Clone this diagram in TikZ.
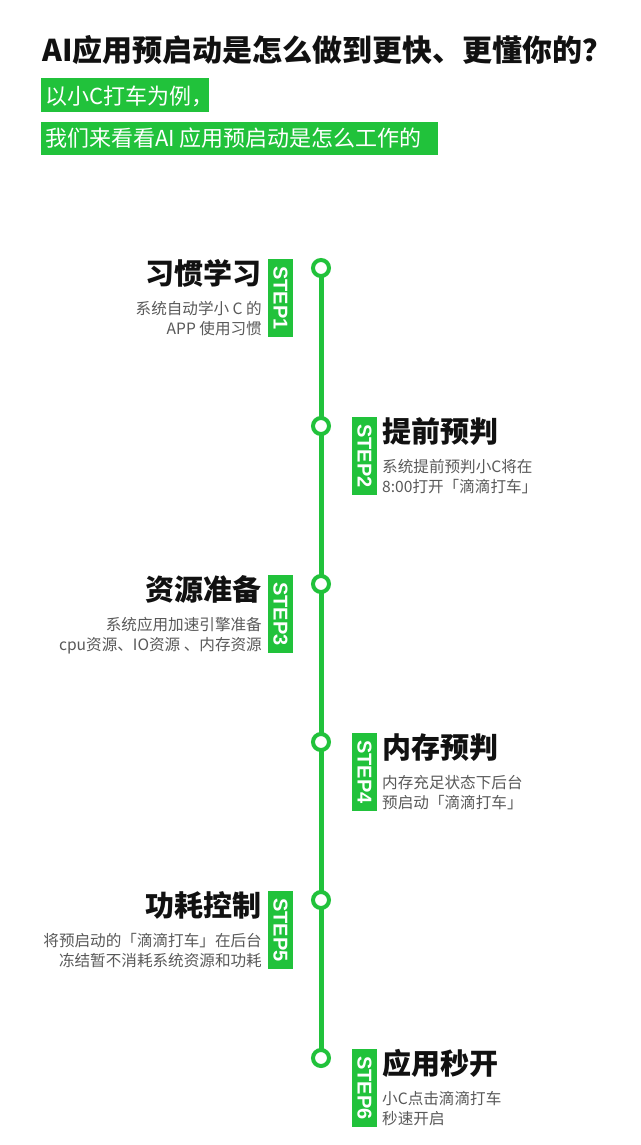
\documentclass[tikz,border=0pt]{standalone}
\usepackage{fontspec}
\setmainfont{Noto Sans CJK SC}
\newfontfamily\stepfont{Liberation Sans}
\definecolor{brandgreen}{HTML}{21C23B}
\definecolor{subgray}{HTML}{595959}
\definecolor{titleblack}{HTML}{111111}
\begin{document}
\begin{tikzpicture}[x=1pt,y=-1pt,
  headtitle/.style={anchor=base west,inner sep=0pt,text=titleblack,font=\fontsize{30}{30}\selectfont\bfseries},
  bandbox/.style={anchor=north west,fill=brandgreen,inner sep=0pt},
  bandtext/.style={anchor=base west,inner sep=0pt,text=white,font=\fontsize{22}{22}\selectfont},
  stitle/.style={inner sep=0pt,text=titleblack,font=\fontsize{29}{29}\selectfont\bfseries},
  ssub/.style={inner sep=0pt,text=subgray,font=\fontsize{15.6}{15.6}\selectfont},
  steptag/.style={rotate=-90,fill=brandgreen,text=white,inner sep=0pt,minimum width=78pt,minimum height=25pt,font=\stepfont\fontsize{20}{20}\selectfont\bfseries},
  dot/.style={circle,draw=brandgreen,line width=4pt,fill=white,minimum size=16pt,inner sep=0pt},
  spine/.style={draw=brandgreen,line width=5pt}
]
\useasboundingbox[fill=white] (0,0) rectangle (640,1145);

% header
\node[headtitle] (head) at (42,62) {AI应用预启动是怎么做到更快、更懂你的？};
\node[bandbox,minimum width=168pt,minimum height=34pt] (band1) at (41,78) {};
\node[bandtext] (band1t) at (45,104.5) {以小C打车为例，};
\node[bandbox,minimum width=397pt,minimum height=33pt] (band2) at (41,122) {};
\node[bandtext] (band2t) at (45,146.5) {我们来看看AI 应用预启动是怎么工作的};

% spine
\coordinate (p1) at (321,268);
\coordinate (p2) at (321,426);
\coordinate (p3) at (321,584);
\coordinate (p4) at (321,742);
\coordinate (p5) at (321,900);
\coordinate (p6) at (321,1058);
\draw[spine] (p1) -- (p6);
\foreach \i in {1,...,6} {\node[dot] (c\i) at (p\i) {};}

% STEP 1 (left)
\node[steptag] (t1) at (280.5,298) {STEP1};
\node[stitle,anchor=base east] (h1) at (262,284) {习惯学习};
\node[ssub,anchor=base east] (s1a) at (262,314) {系统自动学小 C 的};
\node[ssub,anchor=base east] (s1b) at (262,334) {APP 使用习惯};

% STEP 2 (right)
\node[steptag] (t2) at (364.5,456) {STEP2};
\node[stitle,anchor=base west] (h2) at (382,442) {提前预判};
\node[ssub,anchor=base west] (s2a) at (382,472) {系统提前预判小C将在};
\node[ssub,anchor=base west] (s2b) at (382,492) {8:00打开「滴滴打车」};

% STEP 3 (left)
\node[steptag] (t3) at (280.5,614) {STEP3};
\node[stitle,anchor=base east] (h3) at (262,600) {资源准备};
\node[ssub,anchor=base east] (s3a) at (262,630) {系统应用加速引擎准备};
\node[ssub,anchor=base east] (s3b) at (262,650) {cpu资源、IO资源 、内存资源};

% STEP 4 (right)
\node[steptag] (t4) at (364.5,772) {STEP4};
\node[stitle,anchor=base west] (h4) at (382,758) {内存预判};
\node[ssub,anchor=base west] (s4a) at (382,788) {内存充足状态下后台};
\node[ssub,anchor=base west] (s4b) at (382,808) {预启动「滴滴打车」};

% STEP 5 (left)
\node[steptag] (t5) at (280.5,930) {STEP5};
\node[stitle,anchor=base east] (h5) at (262,916) {功耗控制};
\node[ssub,anchor=base east] (s5a) at (262,946) {将预启动的「滴滴打车」在后台};
\node[ssub,anchor=base east] (s5b) at (262,966) {冻结暂不消耗系统资源和功耗};

% STEP 6 (right)
\node[steptag] (t6) at (364.5,1088) {STEP6};
\node[stitle,anchor=base west] (h6) at (382,1074) {应用秒开};
\node[ssub,anchor=base west] (s6a) at (382,1104) {小C点击滴滴打车};
\node[ssub,anchor=base west] (s6b) at (382,1124) {秒速开启};
\end{tikzpicture}
\end{document}
